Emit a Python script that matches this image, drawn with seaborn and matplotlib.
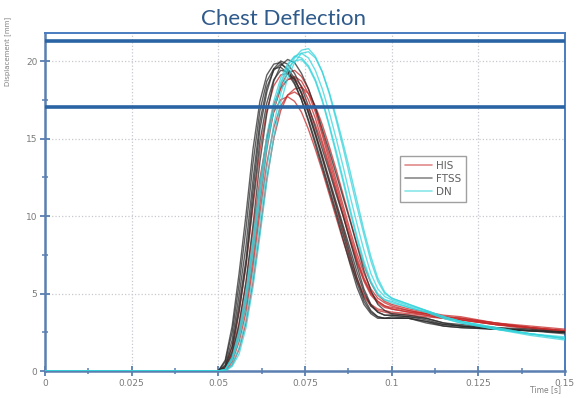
import numpy as np
import pandas as pd
import matplotlib
matplotlib.use('Agg')
import matplotlib.pyplot as plt
import seaborn as sns
from matplotlib.ticker import MultipleLocator
from matplotlib.lines import Line2D

# time axis [s]
time = [0, 0.05, 0.052, 0.054, 0.056, 0.058, 0.06, 0.062, 0.064, 0.066, 0.068, 0.07,
        0.072, 0.074, 0.076, 0.078, 0.08, 0.082, 0.084, 0.086, 0.088, 0.09, 0.092,
        0.094, 0.096, 0.098, 0.1, 0.105, 0.11, 0.115, 0.12, 0.13, 0.14, 0.15]

# HIS runs [mm]
his_1 = [0, 0, 0.1, 0.8, 2.3, 4.2, 7.2, 10.8, 14.3, 16.8, 18.4, 19.2, 19.4, 19.0, 18.2, 16.9, 15.4, 13.9, 12.3, 10.7, 9.1, 7.6, 6.3, 5.3, 4.7, 4.4, 4.2, 3.9, 3.7, 3.5, 3.4, 3.1, 2.8, 2.6]
his_2 = [0, 0, 0.2, 1.1, 2.8, 5.0, 8.3, 12.0, 15.1, 17.2, 18.3, 18.8, 18.9, 18.4, 17.5, 16.3, 14.8, 13.3, 11.7, 10.1, 8.5, 7.0, 5.8, 4.9, 4.4, 4.1, 4.0, 3.8, 3.7, 3.5, 3.4, 3.1, 2.8, 2.6]
his_3 = [0, 0, 0.0, 0.6, 1.9, 3.8, 6.7, 10.2, 13.4, 15.7, 17.1, 17.8, 18.0, 17.7, 17.0, 15.9, 14.6, 13.1, 11.6, 10.0, 8.5, 7.1, 5.9, 5.0, 4.5, 4.2, 4.1, 3.9, 3.7, 3.5, 3.4, 3.0, 2.8, 2.6]
his_4 = [0, 0, 0.2, 1.2, 3.1, 5.6, 9.0, 12.4, 15.0, 16.7, 17.5, 17.7, 17.4, 16.7, 15.6, 14.3, 12.9, 11.4, 9.9, 8.4, 7.0, 5.8, 4.8, 4.2, 3.9, 3.8, 3.7, 3.6, 3.5, 3.4, 3.3, 3.0, 2.8, 2.6]
his_5 = [0, 0, 0.3, 1.6, 3.9, 6.9, 10.6, 14.2, 16.8, 18.4, 19.1, 19.2, 18.8, 18.0, 16.8, 15.4, 13.8, 12.2, 10.6, 9.0, 7.4, 6.0, 4.9, 4.3, 4.0, 3.9, 3.8, 3.7, 3.6, 3.4, 3.3, 3.0, 2.8, 2.5]
his_6 = [0, 0, 0.0, 0.4, 1.4, 3.1, 5.7, 9.0, 12.4, 15.0, 16.8, 17.8, 18.2, 18.3, 17.9, 17.1, 15.9, 14.5, 13.0, 11.4, 9.8, 8.2, 6.8, 5.7, 4.9, 4.5, 4.3, 4.0, 3.8, 3.6, 3.5, 3.1, 2.9, 2.7]
his_7 = [0, 0, 0.1, 0.9, 2.5, 4.6, 7.8, 11.4, 14.7, 16.9, 18.2, 18.8, 19.0, 18.7, 17.9, 16.7, 15.2, 13.6, 12.0, 10.4, 8.8, 7.3, 6.0, 5.1, 4.5, 4.2, 4.0, 3.8, 3.6, 3.4, 3.3, 3.0, 2.7, 2.5]

# FTSS runs [mm]
ftss_1 = [0, 0, 0.3, 1.6, 4.3, 7.2, 11.6, 15.6, 18.0, 19.5, 20.0, 19.8, 19.2, 18.3, 17.1, 15.7, 14.3, 12.9, 11.4, 10.0, 8.4, 6.8, 5.3, 4.3, 3.8, 3.6, 3.6, 3.5, 3.3, 3.0, 2.9, 2.7, 2.6, 2.5]
ftss_2 = [0, 0, 0.6, 2.5, 5.6, 9.2, 13.4, 16.8, 18.7, 19.5, 19.6, 19.2, 18.5, 17.5, 16.2, 14.8, 13.3, 11.8, 10.3, 8.8, 7.2, 5.7, 4.5, 3.8, 3.5, 3.4, 3.4, 3.4, 3.2, 2.9, 2.8, 2.7, 2.6, 2.5]
ftss_3 = [0, 0, 0.1, 1.0, 3.0, 5.8, 9.4, 13.5, 16.6, 18.7, 19.7, 20.1, 19.9, 19.2, 18.2, 17.0, 15.6, 14.2, 12.7, 11.2, 9.7, 8.1, 6.5, 5.2, 4.3, 3.9, 3.7, 3.6, 3.4, 3.1, 2.9, 2.8, 2.6, 2.5]
ftss_4 = [0, 0, 0.4, 2.0, 4.9, 8.1, 12.3, 16.1, 18.3, 19.4, 19.8, 19.5, 18.9, 17.9, 16.6, 15.2, 13.7, 12.2, 10.7, 9.2, 7.6, 6.0, 4.7, 3.9, 3.5, 3.4, 3.4, 3.4, 3.1, 2.9, 2.8, 2.7, 2.6, 2.4]
ftss_5 = [0, 0, 0.2, 1.3, 3.8, 6.8, 10.9, 14.8, 17.3, 18.8, 19.4, 19.3, 18.8, 17.9, 16.7, 15.3, 13.9, 12.4, 10.9, 9.4, 7.9, 6.4, 5.1, 4.2, 3.8, 3.6, 3.6, 3.5, 3.4, 3.1, 3.0, 2.8, 2.7, 2.5]
ftss_6 = [0, 0, 0.7, 2.9, 6.3, 10.1, 14.3, 17.4, 19.1, 19.8, 19.9, 19.4, 18.6, 17.5, 16.1, 14.6, 13.1, 11.6, 10.1, 8.5, 6.9, 5.4, 4.3, 3.7, 3.4, 3.4, 3.5, 3.4, 3.2, 3.0, 2.9, 2.7, 2.6, 2.5]

# DN runs [mm]
dn_1 = [0, 0, 0.0, 0.4, 1.5, 3.4, 6.2, 9.6, 13.1, 15.9, 17.9, 19.3, 20.2, 20.7, 20.8, 20.3, 19.3, 17.9, 16.2, 14.4, 12.5, 10.6, 8.8, 7.1, 5.8, 5.0, 4.7, 4.3, 3.9, 3.5, 3.2, 2.8, 2.4, 2.1]
dn_2 = [0, 0, 0.1, 0.7, 2.1, 4.4, 7.6, 11.2, 14.5, 16.9, 18.6, 19.7, 20.3, 20.5, 20.2, 19.4, 18.2, 16.7, 15.0, 13.2, 11.3, 9.5, 7.8, 6.3, 5.3, 4.8, 4.6, 4.2, 3.9, 3.5, 3.2, 2.8, 2.4, 2.1]
dn_3 = [0, 0, 0.1, 0.9, 2.6, 5.1, 8.5, 12.1, 15.2, 17.4, 18.9, 19.8, 20.3, 20.2, 19.7, 18.8, 17.5, 15.9, 14.2, 12.4, 10.5, 8.7, 7.1, 5.8, 5.0, 4.6, 4.5, 4.1, 3.8, 3.4, 3.1, 2.7, 2.4, 2.1]
dn_4 = [0, 0, 0.0, 0.3, 1.1, 2.8, 5.4, 8.7, 12.2, 15.1, 17.3, 18.9, 19.9, 20.5, 20.6, 20.2, 19.3, 18.0, 16.4, 14.7, 12.9, 11.0, 9.1, 7.4, 6.0, 5.1, 4.7, 4.3, 3.9, 3.5, 3.2, 2.7, 2.3, 2.0]
dn_5 = [0, 0, 0.1, 0.8, 2.4, 4.8, 8.1, 11.6, 14.7, 16.9, 18.5, 19.5, 20.0, 20.1, 19.6, 18.7, 17.4, 15.8, 14.0, 12.2, 10.3, 8.5, 6.9, 5.7, 4.9, 4.6, 4.4, 4.1, 3.8, 3.4, 3.1, 2.7, 2.4, 2.2]

limit_lines = [21.3, 17.05]
x_ticks = [0, 0.025, 0.05, 0.075, 0.1, 0.125, 0.15]
x_labels = ['0', '0.025', '0.05', '0.075', '0.1', '0.125', '0.15']
y_ticks = [0, 5, 10, 15, 20]

runs = {
    'HIS': [his_1, his_2, his_3, his_4, his_5, his_6, his_7],
    'FTSS': [ftss_1, ftss_2, ftss_3, ftss_4, ftss_5, ftss_6],
    'DN': [dn_1, dn_2, dn_3, dn_4, dn_5],
}
rows = []
for grp, curves in runs.items():
    for i, c in enumerate(curves):
        for t, v in zip(time, c):
            rows.append((t, v, grp, grp + str(i)))
df = pd.DataFrame(rows, columns=['time', 'disp', 'dummy', 'run'])

sns.set_style('white')
plt.rcParams['font.family'] = ['DejaVu Sans']

blue = '#2a64a4'
frame = '#5a7fb0'
fig = plt.figure(figsize=(5.79, 3.98), dpi=100)
ax = fig.add_axes([0.0777, 0.0678, 0.898, 0.849])

pal = {'HIS': '#c62a2a', 'FTSS': '#2b2b2b', 'DN': '#35d4dc'}
sns.lineplot(data=df, x='time', y='disp', hue='dummy', units='run', estimator=None,
             palette=pal, lw=1.0, alpha=0.75, ax=ax, legend=False, sort=False, zorder=3)

for y in limit_lines:
    ax.axhline(y, color=blue, lw=2.6, zorder=5)

ax.set_xlim(0, 0.15)
ax.set_ylim(0, 21.8)
ax.set_xticks(x_ticks)
ax.set_xticklabels(x_labels)
ax.set_yticks(y_ticks)
ax.xaxis.set_minor_locator(MultipleLocator(0.0125))
ax.yaxis.set_minor_locator(MultipleLocator(2.5))
ax.grid(True, which='major', ls=':', color='#c8c8d0', lw=0.9)
ax.tick_params(which='major', direction='inout', length=7, width=1.3, color=frame,
               labelsize=6.5, labelcolor='#7a7a7a', pad=2)
ax.tick_params(which='minor', direction='inout', length=5, width=1.1, color=frame)
ax.tick_params(axis='both', which='both', bottom=True, left=True)
for s in ['left', 'bottom']:
    ax.spines[s].set_color(frame)
    ax.spines[s].set_linewidth(1.8)
for s in ['top', 'right']:
    ax.spines[s].set_color('#4a7cc0')
    ax.spines[s].set_linewidth(1.4)

ax.set_xlabel('')
ax.set_ylabel('')
fig.text(0.942, 0.02, 'Time [s]', fontsize=5.5, color='#808080', ha='center', va='center')
fig.text(0.014, 0.87, 'Displacement [mm]', fontsize=5, color='#808080', rotation=90,
         ha='center', va='center')
fig.text(0.49, 0.952, 'Chest Deflection', fontsize=16, color='#2f5a8c',
         ha='center', va='center', family=['Lato', 'DejaVu Sans'])

handles = [Line2D([], [], color='#e08a8a', lw=1.2),
           Line2D([], [], color='#8a8a8a', lw=1.2),
           Line2D([], [], color='#8ae6ea', lw=1.2)]
leg = ax.legend(handles, ['HIS', 'FTSS', 'DN'], loc='upper left', bbox_to_anchor=(0.673, 0.652),
                fontsize=7.5, frameon=True, fancybox=False, handlelength=2.6,
                labelspacing=0.3, borderpad=0.45, handletextpad=0.4)
leg.get_frame().set_edgecolor('#888888')
leg.get_frame().set_linewidth(1.0)
leg.set_zorder(6)
for t in leg.get_texts():
    t.set_color('#606060')

fig.savefig('out.png', dpi=100)
